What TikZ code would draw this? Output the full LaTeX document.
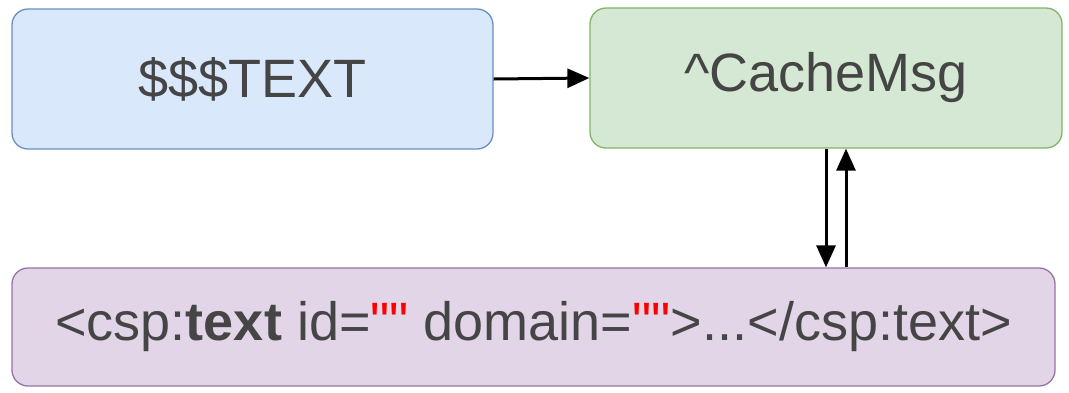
\documentclass[tikz,border=0pt]{standalone}
\usepackage{fontspec}
\setmainfont{Liberation Sans}
\newfontfamily\qfont{Liberation Sans}[Ligatures=TeXOff]
\usetikzlibrary{arrows.meta}
\definecolor{bluefill}{HTML}{DAE8FC}
\definecolor{bluedraw}{HTML}{6C8EBF}
\definecolor{greenfill}{HTML}{D5E8D4}
\definecolor{greendraw}{HTML}{82B366}
\definecolor{purplefill}{HTML}{E1D5E7}
\definecolor{purpledraw}{HTML}{9673A6}
\definecolor{txt}{HTML}{454545}
\definecolor{quotered}{HTML}{FF0000}
\newcommand{\dq}{{\qfont\textcolor{quotered}{\symbol{34}\symbol{34}}}}
\tikzset{
  box/.style={rounded corners=16pt, line width=1.3pt, inner sep=0pt,
    font=\fontsize{54}{64}\selectfont, text=txt},
  conn/.style={line width=3pt, -{Triangle[length=22pt,width=19pt]}}
}
\begin{document}
\begin{tikzpicture}[x=1pt,y=-1pt]
\useasboundingbox (0,0) rectangle (1069,392);
\node[box, fill=bluefill, draw=bluedraw, minimum width=481pt, minimum height=140pt] (t) at (252.5,79) {\$\$\$TEXT};
\node[box, fill=greenfill, draw=greendraw, minimum width=472pt, minimum height=140pt] (c) at (826,78) {\textasciicircum CacheMsg};
\node[box, fill=purplefill, draw=purpledraw, minimum width=1043pt, minimum height=118pt] (x) at (533.5,327)
  {<csp:\textbf{text} id=\dq{} domain=\dq>...</csp:text>};
\draw[conn] (t.east) -- (c.west);
\draw[conn] (c.south) -- (c.south |- x.north);
\draw[conn] ([xshift=20pt]c.south |- x.north) -- ([xshift=20pt]c.south);
\end{tikzpicture}
\end{document}
